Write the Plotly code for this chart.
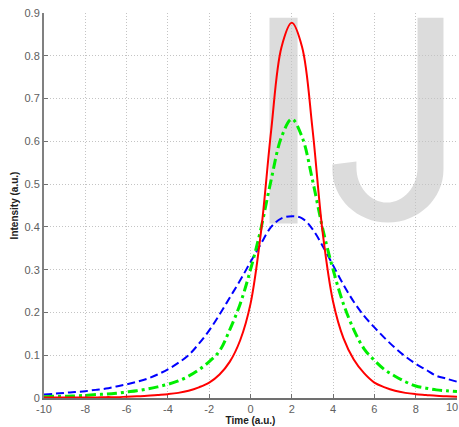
import plotly.graph_objects as go

# time axis (a.u.), sampled every 0.5
time = [-10, -9.5, -9, -8.5, -8, -7.5, -7, -6.5, -6, -5.5, -5, -4.5, -4, -3.5, -3, -2.5,
        -2, -1.5, -1, -0.5, 0, 0.5, 1, 1.5, 2, 2.5, 3, 3.5, 4, 4.5, 5, 5.5,
        6, 6.5, 7, 7.5, 8, 8.5, 9, 9.5, 10]

red_vals = [0.001, 0.001, 0.001, 0.001, 0.001, 0.001, 0.002, 0.002, 0.003, 0.004, 0.005, 0.007,
            0.009, 0.012, 0.017, 0.025, 0.036, 0.055, 0.085, 0.135, 0.22, 0.385, 0.625, 0.82,
            0.877, 0.82, 0.63, 0.385, 0.225, 0.14, 0.09, 0.058, 0.036, 0.025, 0.017, 0.012,
            0.009, 0.007, 0.005, 0.004, 0.003]

green_vals = [0.003, 0.004, 0.004, 0.005, 0.006, 0.008, 0.009, 0.011, 0.014, 0.017, 0.021, 0.026,
              0.032, 0.04, 0.051, 0.066, 0.085, 0.11, 0.16, 0.22, 0.30, 0.395, 0.51, 0.61,
              0.652, 0.61, 0.51, 0.395, 0.30, 0.22, 0.16, 0.115, 0.088, 0.066, 0.051, 0.038,
              0.028, 0.023, 0.019, 0.017, 0.015]

blue_vals = [0.008, 0.010, 0.012, 0.014, 0.016, 0.019, 0.022, 0.027, 0.032, 0.038, 0.045, 0.055,
             0.067, 0.082, 0.10, 0.127, 0.158, 0.195, 0.235, 0.275, 0.318, 0.36, 0.40, 0.42,
             0.425, 0.42, 0.395, 0.355, 0.31, 0.265, 0.225, 0.192, 0.165, 0.14, 0.117, 0.097,
             0.08, 0.066, 0.052, 0.045, 0.038]

x_ticks = [-10, -8, -6, -4, -2, 0, 2, 4, 6, 8, 10]
x_labels = ["-10", "-8", "-6", "-4", "-2", "0", "2", "4", "6", "8", "10"]
y_ticks = [0, 0.1, 0.2, 0.3, 0.4, 0.5, 0.6, 0.7, 0.8, 0.9]
y_labels = ["0", "0.1", "0.2", "0.3", "0.4", "0.5", "0.6", "0.7", "0.8", "0.9"]

tick_font = dict(family="Liberation Sans, Arial, sans-serif", size=11, color="#606060")

fig = go.Figure()

fig.add_trace(go.Scatter(x=time, y=blue_vals, mode="lines", line_shape="spline",
                         line=dict(color="#0000ff", width=2, dash="8px,4px")))
fig.add_trace(go.Scatter(x=time, y=green_vals, mode="lines", line_shape="spline",
                         line=dict(color="#00ee00", width=3, dash="10px,4px,3px,4px")))
fig.add_trace(go.Scatter(x=time, y=red_vals, mode="lines", line_shape="spline",
                         line=dict(color="#ff0000", width=2)))

# grey "IJ" watermark behind the grid
wm = "#dcdcdc"
fig.add_shape(type="rect", xref="x", yref="y", x0=0.92, x1=2.28, y0=0.408, y1=0.889,
              fillcolor=wm, line_width=0, layer="below")
j_path = ("M 9.345,0.889 L 9.345,0.534 "
          "C 9.345,0.466 8.141,0.410 6.655,0.410 "
          "C 5.169,0.410 3.965,0.466 3.965,0.534 "
          "L 3.965,0.546 L 5.13,0.553 L 5.13,0.539 "
          "C 5.13,0.494 5.793,0.457 6.61,0.457 "
          "C 7.427,0.457 8.09,0.494 8.09,0.539 "
          "L 8.09,0.889 Z")
fig.add_shape(type="path", path=j_path, xref="x", yref="y",
              fillcolor=wm, line_width=0, layer="below")

# last x label runs off the right edge, plotly would drop it -> nudge it inside
fig.add_annotation(x=x_ticks[-1], y=0, xref="x", yref="paper", text=x_labels[-1],
                   showarrow=False, xanchor="center", yanchor="top", yshift=-1, xshift=-5,
                   font=tick_font)

fig.update_layout(
    width=459, height=427,
    margin=dict(l=44, r=2, t=13, b=29),
    paper_bgcolor="white", plot_bgcolor="white",
    showlegend=False,
    font=tick_font,
)
fig.update_xaxes(range=[-10, 10], tickvals=x_ticks[:-1], ticktext=x_labels[:-1],
                 ticks="inside", ticklen=4,
                 tickcolor="#707070", showline=True, linecolor="#707070", linewidth=2,
                 showgrid=True, gridcolor="#c4c4c4", griddash="1px,2px", gridwidth=1,
                 zeroline=False, layer="below traces", automargin=False,
                 title=dict(text="<b>Time (a.u.)</b>", font=dict(size=10, color="#202020"),
                            standoff=0))
fig.update_yaxes(range=[0, 0.9], tickvals=y_ticks, ticktext=y_labels, ticks="inside", ticklen=4,
                 tickcolor="#707070", showline=True, linecolor="#808080", linewidth=2,
                 showgrid=True, gridcolor="#c4c4c4", griddash="1px,2px", gridwidth=1,
                 zeroline=False, layer="below traces", automargin=False,
                 title=dict(text="<b>Intensity (a.u.)</b>", font=dict(size=10, color="#202020"),
                            standoff=4))

fig.write_html("out.html", config={"displayModeBar": False},
               post_script="document.body.style.margin='0';document.body.style.overflow='hidden';")
